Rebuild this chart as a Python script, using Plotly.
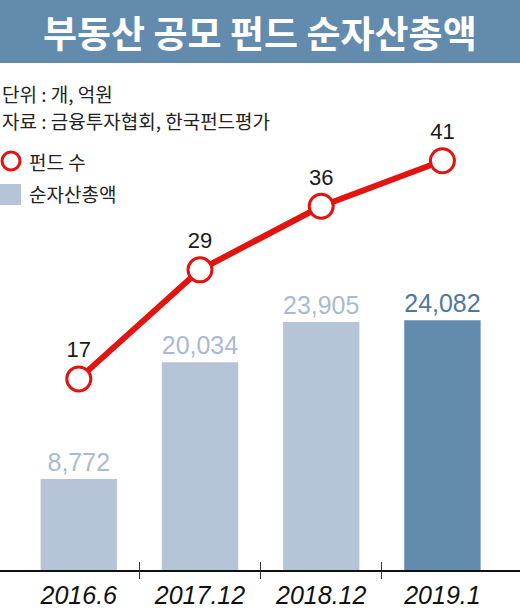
import plotly.graph_objects as go

# ---- data ----
categories = ["2016.6", "2017.12", "2018.12", "2019.1"]
fund_counts = [17, 29, 36, 41]            # 펀드 수 (개)
net_assets = [8772, 20034, 23905, 24082]  # 순자산총액 (억원)
bar_label_text = ["8,772", "20,034", "23,905", "24,082"]

title_text = "부동산 공모 펀드 순자산총액"
unit_text = "단위 : 개, 억원"
source_text = "자료 : 금융투자협회, 한국펀드평가"
line_name = "펀드 수"
bar_name = "순자산총액"

# ---- styles ----
W, H = 520, 614
M_T, M_B = 64, 44
PLOT_H = H - M_T - M_B
BANNER = "#628bad"
BAR_LIGHT = "#b5c5d7"
BAR_DARK = "#628bad"
LBL_LIGHT = "#a9bbd0"
LBL_DARK = "#4f77a0"
RED = "#e1140f"
KFONT = "Noto Sans CJK KR"
NFONT = "Liberation Sans, Arial, sans-serif"


def py(p):
    """pixel row from top of page -> paper y"""
    return (H - M_B - p) / PLOT_H


def px(p):
    """pixel column from left of page -> paper x"""
    return p / W


bar_colors = [BAR_LIGHT] * (len(categories) - 1) + [BAR_DARK]
label_colors = [LBL_LIGHT] * (len(categories) - 1) + [LBL_DARK]

fig = go.Figure()

fig.add_trace(go.Bar(
    x=categories, y=net_assets, width=0.63,
    marker=dict(color=bar_colors, line=dict(width=0)),
    text=bar_label_text, textposition="outside",
    textfont=dict(family=NFONT, size=25, color=label_colors),
    cliponaxis=False, showlegend=False, name=bar_name,
))

fig.add_trace(go.Scatter(
    x=categories, y=fund_counts, yaxis="y2", mode="lines+markers+text",
    line=dict(color=RED, width=6),
    marker=dict(size=24, color="white", line=dict(color=RED, width=3)),
    text=[str(v) for v in fund_counts], textposition="top center",
    textfont=dict(family=NFONT, size=22, color="#1a1a1a"),
    cliponaxis=False, showlegend=False, name=line_name,
))

# empty traces so the overlaid tick-mark axes get drawn
for xa in ("x3", "x4"):
    fig.add_trace(go.Scatter(x=[None], y=[None], xaxis=xa, yaxis="y",
                             mode="markers", showlegend=False, hoverinfo="skip"))

xr = [-0.65, 3.64]
tick_axis = dict(
    overlaying="x", anchor="y", side="bottom", range=xr, showgrid=False, zeroline=False,
    tickmode="array", tickvals=[0.5, 1.5, 2.5], showticklabels=False,
    ticklen=8, tickwidth=1.2, tickcolor="#333333", showline=False, fixedrange=True,
)
fig.update_layout(
    width=W, height=H,
    margin=dict(l=0, r=0, t=M_T, b=M_B, pad=0),
    paper_bgcolor="white", plot_bgcolor="white",
    showlegend=False,
    xaxis=dict(
        type="category", range=xr, showgrid=False, zeroline=False,
        showline=True, linecolor="#111111", linewidth=1.5,
        ticks="", ticklabelstandoff=2,
        tickfont=dict(family=NFONT, size=25, color="#111111"),
        tickprefix="<i>", ticksuffix="</i>",
        fixedrange=True,
    ),
    xaxis3=dict(tick_axis, ticks="outside"),
    xaxis4=dict(tick_axis, ticks="inside"),
    yaxis=dict(range=[0, PLOT_H / 0.01037], visible=False, fixedrange=True),
    yaxis2=dict(range=[-4.03, 51.65], overlaying="y", visible=False, fixedrange=True),
    shapes=[
        dict(type="rect", xref="paper", yref="paper",
             x0=-0.01, x1=1.01, y0=py(63), y1=py(-2),
             fillcolor=BANNER, line=dict(width=0), layer="above"),
        # legend keys
        dict(type="circle", xref="paper", yref="paper",
             x0=px(2), x1=px(20), y0=py(170), y1=py(152),
             fillcolor="white", line=dict(color=RED, width=3)),
        dict(type="rect", xref="paper", yref="paper",
             x0=px(0), x1=px(21), y0=py(205), y1=py(184),
             fillcolor=BAR_LIGHT, line=dict(width=0)),
    ],
    annotations=[
        dict(text=f"<b>{title_text}</b>", xref="paper", yref="paper",
             x=0.5, y=py(32), xanchor="center", yanchor="middle", showarrow=False,
             font=dict(family=KFONT, size=37, color="white")),
        dict(text=unit_text, xref="paper", yref="paper", x=0, y=py(93),
             xanchor="left", yanchor="middle", showarrow=False,
             font=dict(family=KFONT, size=19, color="#222222")),
        dict(text=source_text, xref="paper", yref="paper", x=0, y=py(120),
             xanchor="left", yanchor="middle", showarrow=False,
             font=dict(family=KFONT, size=19, color="#222222")),
        dict(text=line_name, xref="paper", yref="paper", x=px(27), y=py(161),
             xanchor="left", yanchor="middle", showarrow=False,
             font=dict(family=KFONT, size=19, color="#222222")),
        dict(text=bar_name, xref="paper", yref="paper", x=px(27), y=py(194),
             xanchor="left", yanchor="middle", showarrow=False,
             font=dict(family=KFONT, size=19, color="#222222")),
    ],
)

fig.write_html(
    "out.html",
    config={"displayModeBar": False, "staticPlot": True},
    post_script="document.body.style.margin='0';document.body.style.overflow='hidden';",
)
